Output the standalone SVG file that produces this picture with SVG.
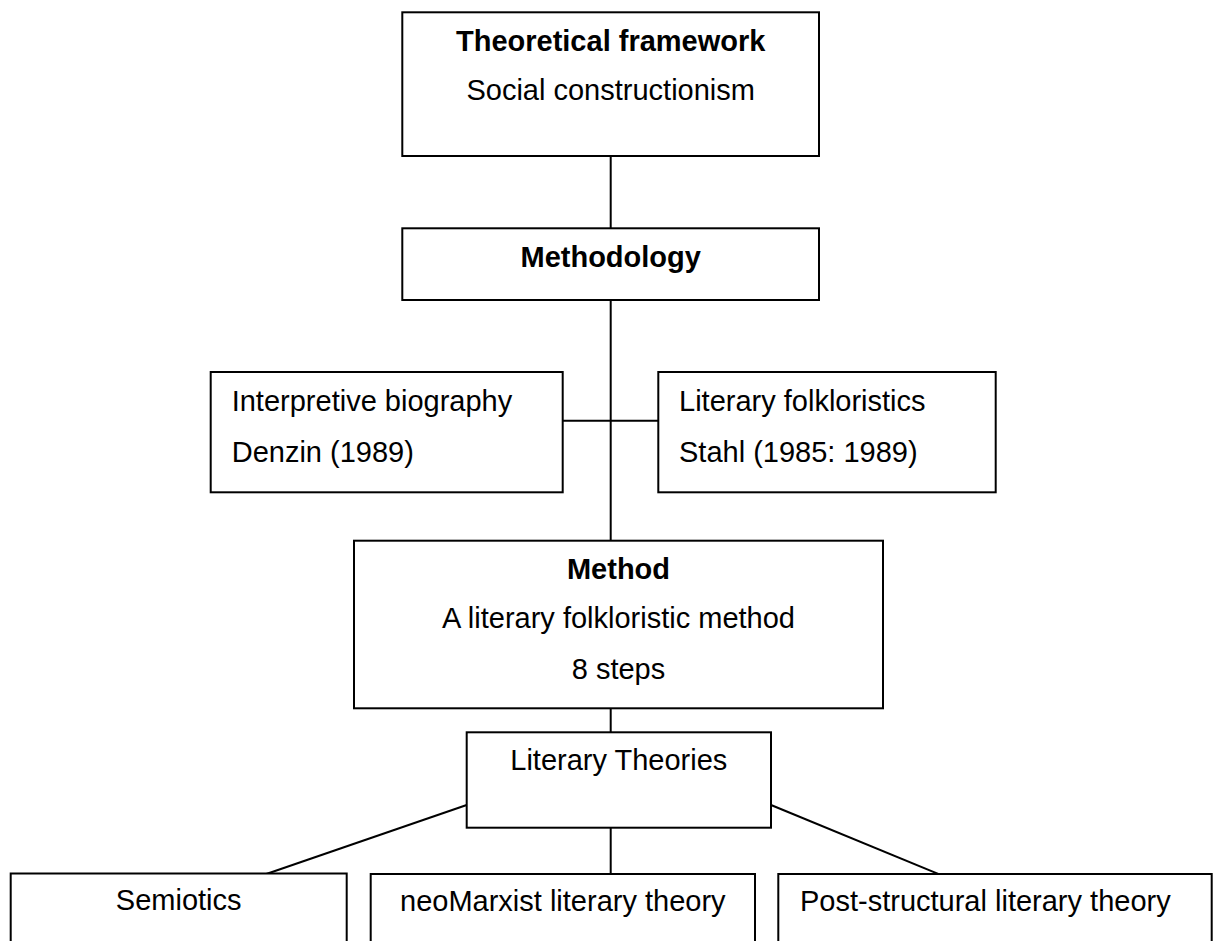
<svg xmlns="http://www.w3.org/2000/svg" width="1217" height="941" viewBox="0 0 1217 941">
<style>
.box{fill:#fff;stroke:#000;stroke-width:2}
.t{font-family:"Liberation Sans",Arial,sans-serif;font-size:29px;fill:#000}
.b{font-weight:bold}
.c{text-anchor:middle}
.ln{stroke:#000;stroke-width:2;fill:none}
</style>
<rect width="1217" height="941" fill="#fff"/>
<g id="connectors">
<line class="ln" x1="610.7" y1="156" x2="610.7" y2="228.3"/>
<line class="ln" x1="610.7" y1="300" x2="610.7" y2="540.7"/>
<line class="ln" x1="562.7" y1="420.7" x2="658.3" y2="420.7"/>
<line class="ln" x1="610.7" y1="708.3" x2="610.7" y2="732.3"/>
<line class="ln" x1="610.7" y1="827.7" x2="610.7" y2="876.7"/>
<line class="ln" x1="466.7" y1="805" x2="258.3" y2="876.7"/>
<line class="ln" x1="771" y1="805" x2="946.7" y2="877.3"/>
</g>
<g id="theoretical-framework">
<rect class="box" x="402.3" y="12.3" width="416.7" height="143.7"/>
<text class="t b c" x="610.7" y="51">Theoretical framework</text>
<text class="t c" x="610.7" y="100">Social constructionism</text>
</g>
<g id="methodology">
<rect class="box" x="402.3" y="228.3" width="416.7" height="71.7"/>
<text class="t b c" x="610.7" y="267">Methodology</text>
</g>
<g id="interpretive-biography">
<rect class="box" x="210.7" y="372" width="352" height="120.3"/>
<text class="t" x="231.7" y="411">Interpretive biography</text>
<text class="t" x="231.7" y="462">Denzin (1989)</text>
</g>
<g id="literary-folkloristics">
<rect class="box" x="658.3" y="372" width="337.4" height="120.3"/>
<text class="t" x="679" y="411">Literary folkloristics</text>
<text class="t" x="679" y="462">Stahl (1985: 1989)</text>
</g>
<g id="method">
<rect class="box" x="354" y="540.7" width="529" height="167.6"/>
<text class="t b c" x="618.5" y="579">Method</text>
<text class="t c" x="618.5" y="628">A literary folkloristic method</text>
<text class="t c" x="618.5" y="679">8 steps</text>
</g>
<g id="literary-theories">
<rect class="box" x="466.7" y="732.3" width="304.3" height="95.4"/>
<text class="t c" x="618.8" y="770">Literary Theories</text>
</g>
<g id="semiotics">
<rect class="box" x="10.7" y="873.5" width="336" height="100"/>
<text class="t c" x="178.7" y="910">Semiotics</text>
</g>
<g id="neomarxist">
<rect class="box" x="370.7" y="874" width="384.3" height="100"/>
<text class="t c" x="562.8" y="911">neoMarxist literary theory</text>
</g>
<g id="post-structural">
<rect class="box" x="778.3" y="874" width="433.4" height="100"/>
<text class="t" x="800" y="911">Post-structural literary theory</text>
</g>
</svg>
